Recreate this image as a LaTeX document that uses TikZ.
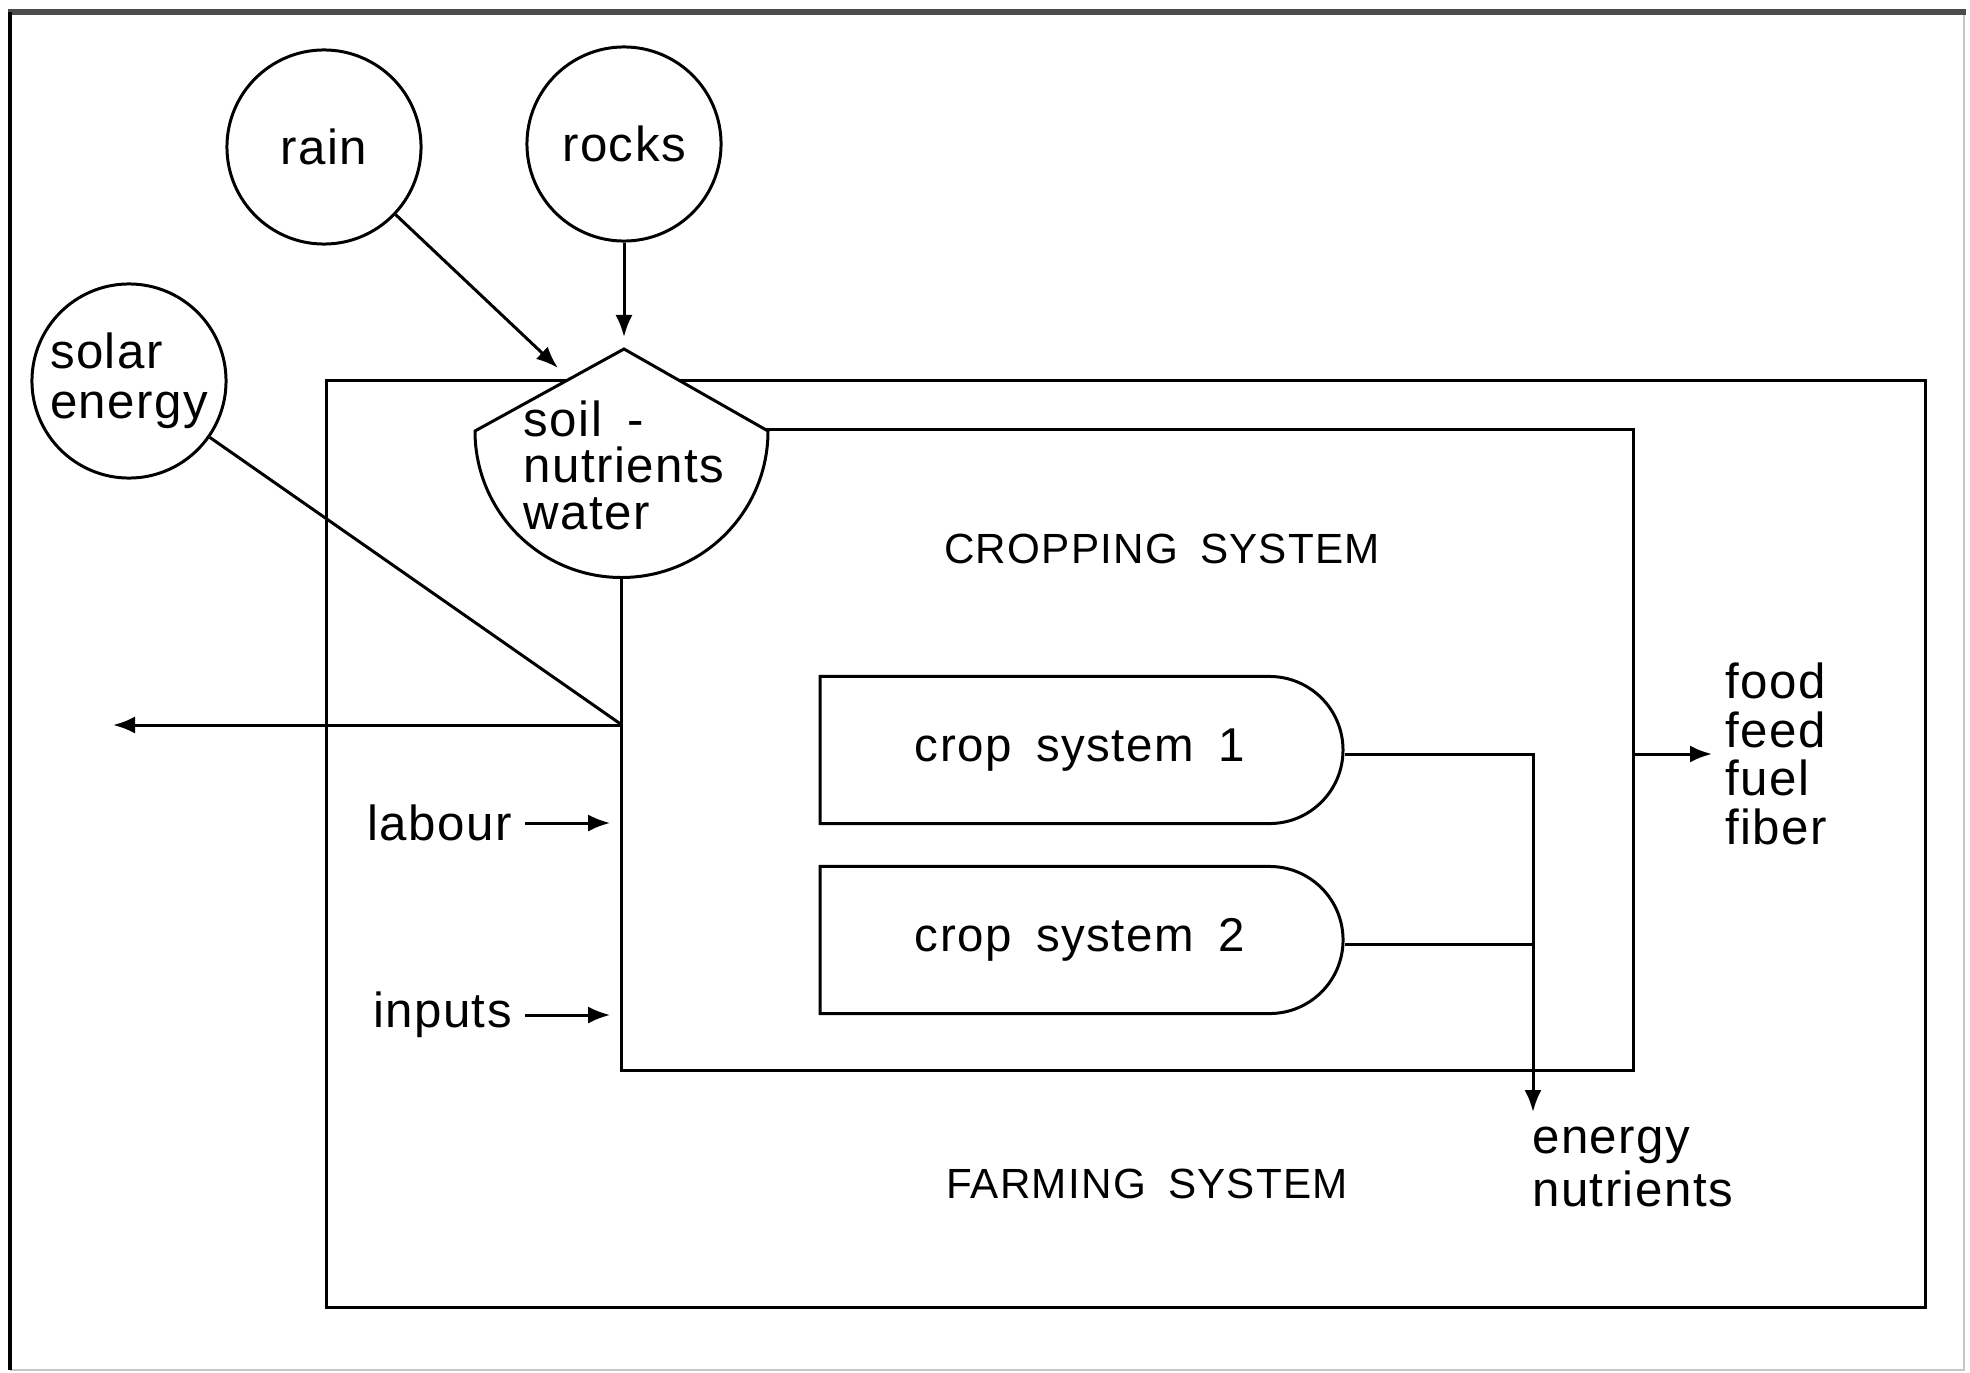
\documentclass[tikz,border=0pt]{standalone}
\usepackage{fontspec}
\setmainfont{Liberation Sans}[LetterSpace=3,WordSpace=1.7]
\usetikzlibrary{arrows.meta,shapes.misc}

\begin{document}
\begin{tikzpicture}[
  x=0.01cm, y=-0.01cm,
  line width=0.85pt,
  sourcecirc/.style={draw, circle, minimum size=1.94cm, inner sep=0pt, font=\fontsize{14}{14.3}\selectfont, align=left},
  cropcell/.style={draw, rounded rectangle, rounded rectangle west arc=none, minimum width=5.46cm, minimum height=1.47cm, font=\fontsize{13.5}{14}\selectfont},
  sysbox/.style={draw, inner sep=0pt},
  flowlabel/.style={font=\fontsize{14}{13.8}\selectfont, align=left},
  syslabel/.style={font=\fontsize{12}{12}\selectfont},
  flowarrow/.style={-{Latex[length=2.2mm,width=1.7mm]}},
]
  \useasboundingbox (0,0) rectangle (1970,1373);

  % sheet edges
  \draw[gray!45, line width=0.6pt] (10,1370) -- (1964,1370) -- (1964,12);
  \draw[black!70, line width=1.6pt] (8,12) -- (1966,12);
  \draw[line width=1pt] (10,12) -- (10,1370);

  % farming system and cropping system
  \node[sysbox, minimum width=15.98cm, minimum height=9.26cm] (farm) at (1126,844) {};
  \node[sysbox, minimum width=10.11cm, minimum height=6.40cm] (crop) at (1127.5,750) {};
  \node[syslabel] (croplabel) at (1162,549) {CROPPING SYSTEM};
  \node[syslabel] (farmlabel) at (1147,1184) {FARMING SYSTEM};

  % sources
  \node[sourcecirc] (rain) at (324,147) {rain};
  \node[sourcecirc] (rocks) at (624,144) {rocks};
  \node[sourcecirc] (solar) at (129,381) {solar\\energy};

  % soil store
  \coordinate (soiltop) at (624,349);
  \coordinate (soilL) at (475,431);
  \coordinate (soilR) at (768,431);
  \draw[fill=white] (soilL) -- (soiltop) -- (soilR)
    arc[start angle=0, end angle=180, radius=146.5] -- cycle;
  \node[flowlabel, font=\fontsize{14}{13.2}\selectfont] (soil) at (624,465) {soil -\\nutrients\\water};

  \coordinate (raintip) at (558,368);
  \coordinate (rockstip) at (624,337);
  \draw[flowarrow] (rain) -- (raintip);
  \draw[flowarrow] (rocks) -- (rockstip);

  % solar energy and losses
  \coordinate (leakstart) at (622,725);
  \coordinate (leakend) at (113,725);
  \draw (solar) -- (leakstart);
  \draw[flowarrow] (leakstart) -- (leakend);

  % labour, inputs
  \node[flowlabel, anchor=east] (labour) at (525,823) {labour};
  \node[flowlabel, anchor=east] (inputs) at (525,1015) {inputs};
  \draw[flowarrow] (labour.east) -- ([xshift=-1mm]labour.east -| crop.west);
  \draw[flowarrow] (inputs.east) -- ([xshift=-1mm]inputs.east -| crop.west);

  % crop systems
  \node[cropcell] (cs1) at (1080,750) {crop system 1};
  \node[cropcell] (cs2) at (1080,940) {crop system 2};
  \coordinate (nutout) at (1533,1112);
  \draw[flowarrow] ([yshift=-0.4mm]cs1.east) -| (nutout);
  \draw ([yshift=-0.4mm]cs2.east) -- ([yshift=-0.4mm]cs2.east -| nutout);

  % outputs
  \node[flowlabel, anchor=west] (products) at (1712,754) {food\\feed\\fuel\\fiber};
  \draw[flowarrow] (crop.east |- products.west) -- (products.west);
  \node[flowlabel, anchor=west, font=\fontsize{14}{15.3}\selectfont] (returns) at (1519,1167) {energy\\nutrients};
\end{tikzpicture}
\end{document}
